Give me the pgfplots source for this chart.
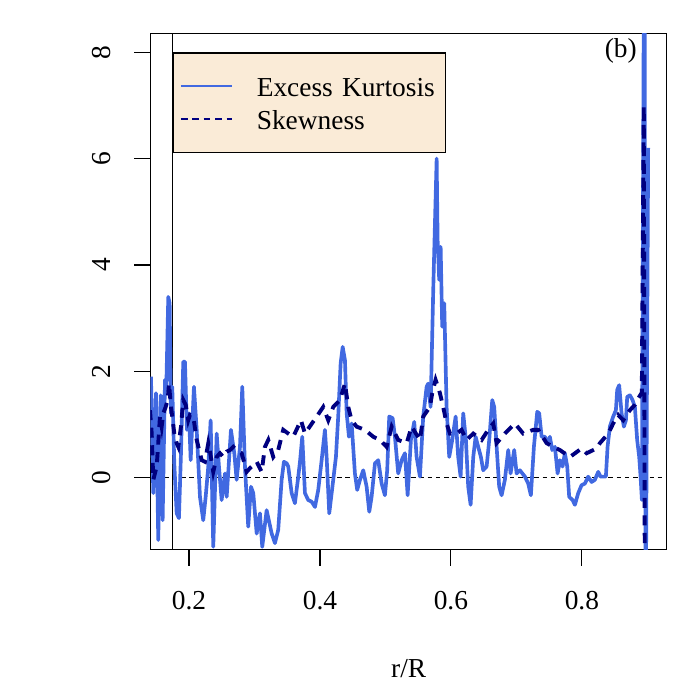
\documentclass[border=0pt,12pt]{standalone}
\usepackage{fontspec}
\setmainfont{Liberation Serif}
\usepackage{pgfplots}
\pgfplotsset{compat=1.18}
\definecolor{kurt}{RGB}{65,105,225}
\definecolor{skew}{RGB}{0,0,128}
\definecolor{legfill}{RGB}{250,235,215}

\begin{document}
\begin{tikzpicture}
\begin{axis}[
  scale only axis, width=226.2pt, height=226.1pt,
  xmin=0.1412, xmax=0.9298, ymin=-1.346, ymax=8.359,
  axis line style={black, line width=0.5pt},
  tick align=outside, major tick length=7.2pt,
  tick style={black, line width=0.5pt},
  xtick pos=lower, ytick pos=left,
  xtick={0.2,0.4,0.6,0.8}, ytick={0,2,4,6,8},
  minor tick num=0,
  /pgf/number format/assume math mode=true,
  xticklabel={\pgfmathprintnumber[fixed,fixed zerofill,precision=1]{\tick}},
  xticklabel style={anchor=north, inner sep=0pt},
  xticklabel shift=10.9pt,
  yticklabel style={rotate=90, anchor=south, inner sep=0pt},
  yticklabel shift=10.1pt,
  xlabel={r/R},
  xlabel style={at={(axis description cs:0.5,0)}, anchor=base, yshift=-56pt, inner sep=0pt},
  legend cell align=left,
  legend image code/.code={\draw[#1] (0pt,0pt) -- (22.5pt,0pt);},
  legend style={at={(rel axis cs:0.0430,0.9626)}, anchor=north west,
    fill=legfill, draw=black, line width=0.5pt,
    inner xsep=2.9pt, inner ysep=7.2pt, row sep=0pt, column sep=10.3pt,
    nodes={inner sep=0pt, text height=11.7pt, text depth=2.9pt, text width=79.9pt, align=left}},
]
% zero reference and marker line
\addplot[black, line width=0.45pt, dash pattern=on 2pt off 1.6pt, forget plot]
  coordinates {(0.10,0) (1.0,0)};
\addplot[black, line width=0.5pt, forget plot]
  coordinates {(0.1745,-2) (0.1745,10)};

% excess kurtosis
\addplot[kurt, line width=1.6pt, line join=round, forget plot] coordinates {
(0.1420,1.90)(0.1455,-0.29)(0.1496,1.59)(0.1531,-1.17)(0.1568,1.55)(0.1598,-0.80)(0.1634,1.84)(0.1653,1.65)
(0.1684,3.40)(0.1705,3.28)(0.1725,1.21)(0.1745,1.71)(0.1776,0.27)(0.1812,-0.67)(0.1847,-0.76)(0.1878,0.46)
(0.1913,2.18)(0.1939,2.18)(0.1969,0.90)(0.2000,1.21)(0.2026,0.33)(0.2076,1.71)(0.2118,0.90)(0.2168,-0.36)
(0.2218,-0.80)(0.2255,-0.36)(0.2295,0.21)(0.2331,1.08)(0.2371,-1.30)(0.2423,0.83)(0.2458,0.21)(0.2499,-0.42)
(0.2550,0.08)(0.2576,-0.36)(0.2641,0.90)(0.2692,0.46)(0.2728,-0.04)(0.2779,0.58)(0.2814,1.71)(0.2855,0.21)
(0.2905,-0.92)(0.2947,-0.17)(0.2982,-0.29)(0.3034,-1.05)(0.3084,-0.67)(0.3119,-1.30)(0.3186,-0.61)(0.3263,-1.05)
(0.3313,-1.23)(0.3363,-0.98)(0.3415,-0.04)(0.3450,0.30)(0.3492,0.27)(0.3516,0.21)(0.3568,-0.29)(0.3618,-0.48)
(0.3669,0.02)(0.3695,0.30)(0.3730,0.77)(0.3771,-0.29)(0.3821,-0.42)(0.3873,-0.45)(0.3924,-0.55)(0.3974,-0.23)
(0.4026,0.33)(0.4076,0.90)(0.4102,0.39)(0.4142,-0.67)(0.4203,-0.04)(0.4244,0.39)(0.4279,1.15)(0.4316,2.15)
(0.4347,2.46)(0.4382,2.21)(0.4408,1.21)(0.4443,0.77)(0.4484,1.02)(0.4534,0.08)(0.4569,-0.23)(0.4611,-0.04)
(0.4661,0.14)(0.4713,-0.17)(0.4753,-0.64)(0.4789,-0.36)(0.4840,0.27)(0.4890,0.33)(0.4942,-0.11)(0.4992,-0.33)
(0.5027,0.14)(0.5058,1.15)(0.5110,1.12)(0.5145,0.77)(0.5195,0.08)(0.5247,0.33)(0.5298,0.46)(0.5339,-0.33)
(0.5389,0.71)(0.5440,1.05)(0.5476,0.39)(0.5527,0.02)(0.5577,1.15)(0.5629,1.71)(0.5653,1.77)(0.5690,1.33)
(0.5730,3.53)(0.5756,4.78)(0.5782,6.00)(0.5797,4.47)(0.5821,3.72)(0.5843,4.34)(0.5867,2.84)(0.5898,3.28)
(0.5934,1.33)(0.5974,0.39)(0.6020,0.71)(0.6072,1.15)(0.6111,0.39)(0.6148,0.02)(0.6188,1.21)(0.6229,0.71)
(0.6264,-0.17)(0.6301,-0.51)(0.6341,0.39)(0.6377,0.77)(0.6417,0.58)(0.6458,0.39)(0.6493,0.14)(0.6545,0.21)
(0.6585,0.71)(0.6631,1.46)(0.6661,1.33)(0.6698,0.58)(0.6737,-0.17)(0.6774,-0.33)(0.6824,-0.04)(0.6875,0.52)
(0.6911,0.08)(0.6966,0.52)(0.7003,0.08)(0.7053,0.14)(0.7130,0.02)(0.7180,-0.11)(0.7221,-0.33)(0.7267,0.58)
(0.7318,1.24)(0.7348,1.21)(0.7385,0.77)(0.7435,0.77)(0.7485,0.65)(0.7511,0.77)(0.7547,0.52)(0.7588,0.58)
(0.7629,0.08)(0.7664,0.33)(0.7705,0.21)(0.7740,0.46)(0.7776,0.21)(0.7806,-0.36)(0.7858,-0.42)(0.7893,-0.51)
(0.7944,-0.29)(0.7995,-0.14)(0.8046,-0.11)(0.8096,0.02)(0.8148,-0.08)(0.8198,-0.04)(0.8249,0.11)(0.8285,0.02)
(0.8366,0.02)(0.8392,0.58)(0.8427,0.96)(0.8478,1.15)(0.8519,1.27)(0.8539,1.65)(0.8569,1.74)(0.8606,1.21)
(0.8641,0.96)(0.8672,1.08)(0.8692,1.52)(0.8733,1.55)(0.8774,1.46)(0.8809,1.33)(0.8844,0.71)(0.8875,0.39)
(0.8896,0.02)(0.8916,-0.42)(0.8954,12)(0.8974,-3)(0.9012,6.2)
};

% skewness
\addplot[skew, line width=1.7pt, dash pattern=on 4.4pt off 3.3pt, forget plot] coordinates {
(0.1405,1.27)(0.1431,0.83)(0.1455,-0.04)(0.1507,0.21)(0.1531,0.65)(0.1557,1.15)(0.1583,0.96)(0.1608,1.21)
(0.1644,1.33)(0.1675,1.46)(0.1695,1.77)(0.1725,1.33)(0.1745,1.15)(0.1776,0.83)(0.1812,0.65)(0.1837,0.58)
(0.1878,0.96)(0.1913,1.46)(0.1950,1.37)(0.1989,1.08)(0.2015,1.18)(0.2066,1.15)(0.2118,0.71)(0.2194,0.33)
(0.2244,0.30)(0.2295,0.65)(0.2321,0.49)(0.2371,0.11)(0.2423,0.39)(0.2473,0.46)(0.2524,0.39)(0.2576,0.49)
(0.2626,0.52)(0.2676,0.58)(0.2728,0.52)(0.2805,0.46)(0.2881,0.11)(0.2931,0.18)(0.3034,0.30)(0.3110,0.11)
(0.3160,0.58)(0.3211,0.71)(0.3287,0.39)(0.3363,0.52)(0.3440,0.90)(0.3516,0.83)(0.3592,0.77)(0.3710,1.08)
(0.3771,0.83)(0.3950,1.15)(0.4050,1.33)(0.4127,1.08)(0.4203,1.33)(0.4305,1.46)(0.4382,1.77)(0.4432,1.33)
(0.4484,1.08)(0.4560,0.96)(0.4687,0.90)(0.4814,0.77)(0.4916,0.71)(0.5018,0.58)(0.5095,0.96)(0.5195,0.71)
(0.5324,0.65)(0.5400,0.96)(0.5527,0.71)(0.5577,1.15)(0.5679,1.33)(0.5715,1.59)(0.5766,1.84)(0.5832,1.59)
(0.5882,1.33)(0.5934,1.02)(0.5985,0.83)(0.6087,0.83)(0.6163,0.90)(0.6240,0.71)(0.6341,0.83)(0.6469,0.71)
(0.6569,0.90)(0.6646,1.02)(0.6698,0.65)(0.6824,0.83)(0.6977,1.02)(0.7104,0.83)(0.7257,0.90)(0.7333,0.90)
(0.7461,0.65)(0.7562,0.58)(0.7664,0.52)(0.7817,0.39)(0.7995,0.55)(0.8072,0.46)(0.8224,0.55)(0.8275,0.65)
(0.8402,0.83)(0.8478,1.02)(0.8554,1.18)(0.8631,1.08)(0.8682,1.18)(0.8733,1.27)(0.8809,1.37)(0.8860,1.49)
(0.8915,1.60)(0.8945,7.0)(0.8962,-3)
};

\addlegendimage{kurt, line width=0.8pt}
\addlegendentry{Excess Kurtosis}
\addlegendimage{skew, line width=0.9pt, dash pattern=on 2.9pt off 2.1pt}
\addlegendentry{Skewness}

\node[anchor=base, inner sep=0pt] at (rel axis cs:0.9106,0.9535) {(b)};
\end{axis}
\pgfresetboundingbox
\path (current axis.south west) ++(-65.9pt,-66.0pt) rectangle ++(306.6pt,306.6pt);
\end{tikzpicture}
\end{document}
